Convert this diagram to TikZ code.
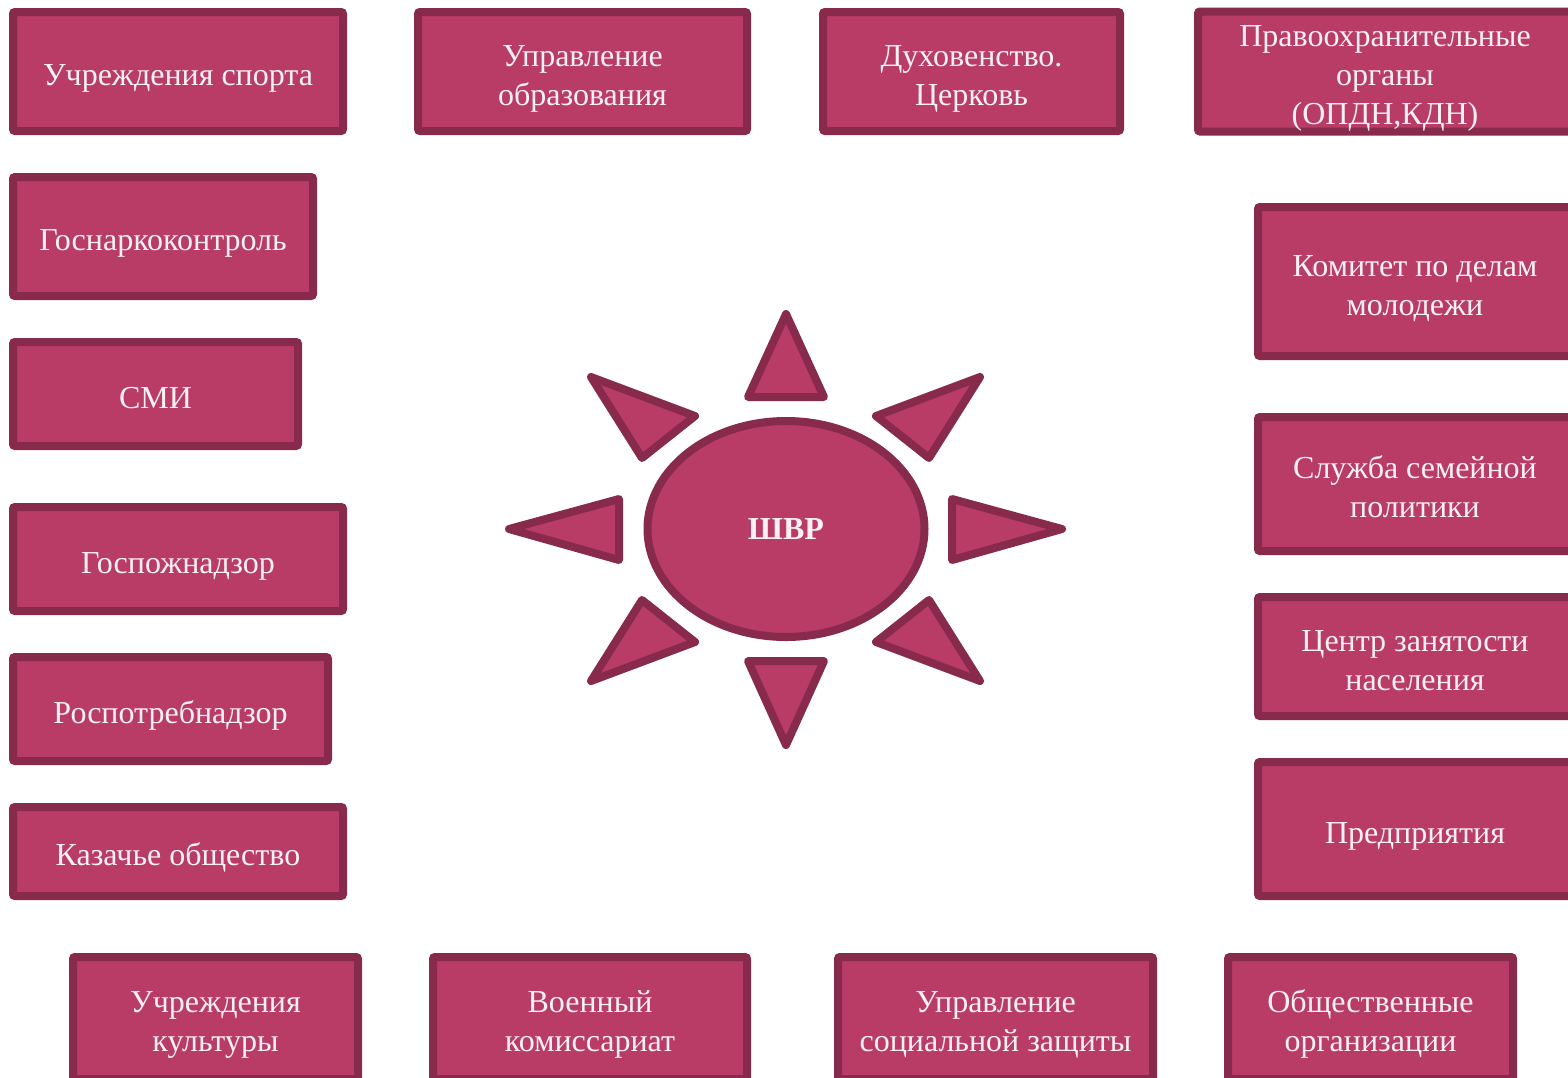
\documentclass[tikz,border=0pt]{standalone}
\usepackage{fontspec}
\setmainfont{Liberation Serif}
\usepackage{tikz}
\usetikzlibrary{shapes.geometric}
\definecolor{boxfill}{HTML}{B83C66}
\definecolor{boxline}{HTML}{872A4B}
\definecolor{boxtext}{HTML}{FBF1F5}
\newcommand{\tstr}{\rule{0pt}{35pt}}
\newcommand{\bstr}{\rule[-7pt]{0pt}{0pt}}
\begin{document}
\begin{tikzpicture}[x=1pt,y=-1pt,
	box/.style={draw=boxline, fill=boxfill, line width=8pt, rounded corners=2pt, text=boxtext, align=center, font=\fontsize{32}{39}\selectfont, inner sep=0pt},
	ray/.style={draw=boxline, fill=boxfill, line width=8pt, line join=round}]
	\useasboundingbox (0,0) rectangle (1568,1077);
	% top row
	\node[box, minimum width=330, minimum height=119] (sport) at (178,71.5) {\tstr Учреждения спорта\bstr};
	\node[box, minimum width=329, minimum height=119] (obraz) at (582.5,71.5) {\tstr Управление\\образования\bstr};
	\node[box, minimum width=297, minimum height=119] (church) at (971.5,71.5) {\tstr Духовенство.\\Церковь\bstr};
	\node[box, minimum width=374, minimum height=119] (police) at (1385,71.5) {\tstr Правоохранительные\\органы\\(ОПДН,КДН)\bstr};
	% left column
	\node[box, minimum width=300, minimum height=119] (narko) at (163,236.5) {\tstr Госнаркоконтроль\bstr};
	\node[box, minimum width=285, minimum height=104] (smi) at (155.5,394) {\tstr СМИ\bstr};
	\node[box, minimum width=330, minimum height=104] (pozhar) at (178,559) {\tstr Госпожнадзор\bstr};
	\node[box, minimum width=315, minimum height=104] (potreb) at (170.5,709) {\tstr Роспотребнадзор\bstr};
	\node[box, minimum width=330, minimum height=89] (kazak) at (178,851.5) {\tstr Казачье общество\bstr};
	% right column
	\node[box, minimum width=314, minimum height=149] (molod) at (1415,281.5) {\tstr Комитет по делам\\молодежи\bstr};
	\node[box, minimum width=314, minimum height=134] (semya) at (1415,484) {\tstr Служба семейной\\политики\bstr};
	\node[box, minimum width=314, minimum height=119] (zanyat) at (1415,656.5) {\tstr Центр занятости\\населения\bstr};
	\node[box, minimum width=314, minimum height=134] (predpr) at (1415,829) {\tstr Предприятия\bstr};
	% bottom row
	\node[box, minimum width=285, minimum height=122] (kult) at (215.5,1018) {\tstr Учреждения\\культуры\bstr};
	\node[box, minimum width=314, minimum height=122] (voen) at (590,1018) {\tstr Военный\\комиссариат\bstr};
	\node[box, minimum width=315, minimum height=122] (soczash) at (995.5,1018) {\tstr Управление\\социальной защиты\bstr};
	\node[box, minimum width=285, minimum height=122] (obsh) at (1370.5,1018) {\tstr Общественные\\организации\bstr};
	% sun
	\node[ray, ellipse, minimum width=277, minimum height=216, inner sep=0pt, text=boxtext, font=\fontsize{32}{36}\selectfont\bfseries] (shvr) at (786,529) {ШВР};
	\draw[ray] (786,314) -- (824,397) -- (748,397) -- cycle;
	\draw[ray] (786,745) -- (824,661) -- (748,661) -- cycle;
	\draw[ray] (509,529) -- (619,499) -- (619,560) -- cycle;
	\draw[ray] (1062,529) -- (952,499) -- (952,560) -- cycle;
	\draw[ray] (591,377) -- (695,416) -- (642,458) -- cycle;
	\draw[ray] (980,377) -- (876,416) -- (929,458) -- cycle;
	\draw[ray] (591,681) -- (695,642) -- (642,600) -- cycle;
	\draw[ray] (980,681) -- (876,642) -- (929,600) -- cycle;
\end{tikzpicture}
\end{document}
